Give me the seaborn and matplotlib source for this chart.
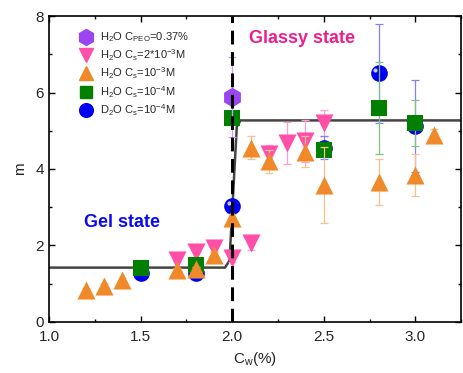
import numpy as np
import pandas as pd
import matplotlib
matplotlib.use("Agg")
import matplotlib.pyplot as plt
import matplotlib.transforms as mtransforms
from matplotlib.ticker import MultipleLocator
import seaborn as sns

# data
peo_x = [2.0]
peo_m = [5.88]
peo_err = [1.05]

cs2e3_x = [1.7, 1.8, 1.9, 2.0, 2.1, 2.2, 2.3, 2.4, 2.5]
cs2e3_m = [1.62, 1.83, 1.93, 1.67, 2.07, 4.38, 4.68, 4.72, 5.2]
cs2e3_err = [0.05, 0.15, 0.1, 0.1, 0.2, 0.25, 0.55, 0.55, 0.35]

cs1e3_x = [1.2, 1.3, 1.4, 1.7, 1.8, 1.9, 2.0, 2.1, 2.2, 2.4, 2.5, 2.8, 3.0, 3.1]
cs1e3_m = [0.84, 0.95, 1.1, 1.35, 1.38, 1.75, 2.72, 4.55, 4.2, 4.45, 3.58, 3.66, 3.84, 4.9]
cs1e3_err = [0.05, 0.08, 0.05, 0.05, 0.05, 0.08, 0.1, 0.3, 0.3, 0.4, 1.0, 0.6, 0.55, 0.15]

cs1e4_x = [1.5, 1.8, 2.0, 2.5, 2.8, 3.0]
cs1e4_m = [1.41, 1.48, 5.33, 4.5, 5.6, 5.2]
cs1e4_err = [0.05, 0.05, 0.15, 0.2, 1.2, 0.6]

d2o_x = [1.5, 1.8, 2.0, 2.5, 2.8, 3.0]
d2o_m = [1.28, 1.28, 3.03, 4.55, 6.5, 5.12]
d2o_err = [0.05, 0.05, 0.1, 0.3, 1.3, 1.2]

# fitted step curve vertices
fit_x = [1.0, 1.96, 1.985, 2.025, 2.045, 3.25]
fit_m = [1.42, 1.42, 1.6, 5.1, 5.27, 5.27]

sns.set_theme(style="ticks")
plt.rcParams['font.family'] = ['Liberation Sans', 'DejaVu Sans']
plt.rcParams['mathtext.fontset'] = 'custom'
plt.rcParams['mathtext.rm'] = 'Liberation Sans'
plt.rcParams['mathtext.it'] = 'Liberation Sans'

fig = plt.figure(figsize=(4.63, 3.73), dpi=100)
ax = fig.add_axes([0.106, 0.137, 0.89, 0.82])

series = [
    # x, m, err, label, marker, color, errcolor, size, zorder
    (cs2e3_x, cs2e3_m, cs2e3_err, r'H$_2$O C$_s$=2*10$^{-3}$M', 'v', '#ff4fa8', '#ff9fcf', 13, 3),
    (d2o_x, d2o_m, d2o_err, r'D$_2$O C$_s$=10$^{-4}$M', 'o', '#0000f0', '#8080ff', 12, 4),
    (cs1e4_x, cs1e4_m, cs1e4_err, r'H$_2$O C$_s$=10$^{-4}$M', 's', '#007f00', '#80c080', 11, 5),
    (cs1e3_x, cs1e3_m, cs1e3_err, r'H$_2$O C$_s$=10$^{-3}$M', '^', '#f0892a', '#f8c090', 13, 6),
    (peo_x, peo_m, peo_err, r'H$_2$O C$_{PEO}$=0.37%', 'h', '#9b45f0', '#c8a0f8', 14, 7),
]

handles = {}
for x, m, err, label, mk, col, ecol, ms, z in series:
    ax.errorbar(x, m, yerr=err, fmt='none', ecolor=ecol, elinewidth=0.9,
                capsize=3, capthick=0.9, zorder=z - 0.5)
    df = pd.DataFrame({'x': x, 'm': m})
    sns.scatterplot(data=df, x='x', y='m', ax=ax, marker=mk, color=col,
                    s=ms ** 2, linewidth=0, zorder=z, legend=False)
    h, = ax.plot([], [], marker=mk, color=col, ms=ms * 0.82, ls='none')
    handles[label] = h

# sphere-like highlight on D2O markers
hl = mtransforms.offset_copy(ax.transData, fig=fig, x=-2.5, y=2.5, units='points')
ax.scatter(d2o_x, d2o_m, s=9, color='#c8c8ff', transform=hl, zorder=4.2, linewidth=0)

fit = pd.DataFrame({'x': fit_x, 'm': fit_m})
sns.lineplot(data=fit, x='x', y='m', ax=ax, color='#444444', lw=1.8, zorder=2, sort=False)
ax.axvline(2.0, color='black', lw=2.2, ls=(0, (4.5, 2.5)), zorder=8)

ax.text(1.19, 2.59, 'Gel state', color='#0a0af0', fontsize=13, fontweight='bold', va='center')
ax.text(2.09, 7.42, 'Glassy state', color='#ee1e8c', fontsize=13, fontweight='bold', va='center')

order = [r'H$_2$O C$_{PEO}$=0.37%', r'H$_2$O C$_s$=2*10$^{-3}$M', r'H$_2$O C$_s$=10$^{-3}$M',
         r'H$_2$O C$_s$=10$^{-4}$M', r'D$_2$O C$_s$=10$^{-4}$M']
ax.legend([handles[k] for k in order], order, loc='upper left', frameon=False,
          fontsize=8, handletextpad=0.6, labelspacing=0.25, borderaxespad=0.5,
          handlelength=1.2, bbox_to_anchor=(0.05, 0.985))

ax.set_xlim(1.0, 3.25)
ax.set_ylim(0, 8)
ax.xaxis.set_major_locator(MultipleLocator(0.5))
ax.xaxis.set_minor_locator(MultipleLocator(0.25))
ax.yaxis.set_major_locator(MultipleLocator(2))
ax.yaxis.set_minor_locator(MultipleLocator(1))
ax.tick_params(which='both', direction='in', top=True, right=True, labelsize=11, color='black')
ax.tick_params(which='major', length=4, width=1)
ax.tick_params(which='minor', length=2.5, width=1)
ax.tick_params(axis='x', pad=6)
ax.set_xticks([1.0, 1.5, 2.0, 2.5, 3.0])
ax.set_xlabel(r'C$_w$(%)', fontsize=11, labelpad=4)
ax.set_ylabel('m', fontsize=11, labelpad=6)
for s in ax.spines.values():
    s.set_linewidth(1.2)
    s.set_color('black')

fig.savefig('out.png', dpi=100)
